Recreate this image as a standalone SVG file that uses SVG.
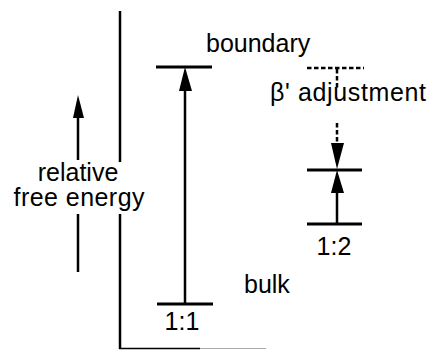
<svg xmlns="http://www.w3.org/2000/svg" width="428" height="350" viewBox="0 0 428 350">
<style>
text{font-family:"Liberation Sans",Arial,sans-serif;font-size:25px;fill:#000}
.ln{stroke:#000;stroke-width:2.5;fill:none}
.lvl{stroke:#000;stroke-width:3;fill:none}
.dash{stroke:#000;stroke-width:2.5;fill:none;stroke-dasharray:4.5 2.5}
.head{fill:#000}
</style>
<rect width="428" height="350" fill="#fff"/>
<g id="axis">
<line class="ln" x1="120" y1="11" x2="120" y2="162"/>
<line class="ln" x1="120" y1="214" x2="120" y2="349"/>
<line x1="119" y1="348.5" x2="200" y2="348.5" stroke="#000" stroke-width="1.5"/>
<line x1="200" y1="348.5" x2="266" y2="348.5" stroke="#aaa" stroke-width="1.2"/>
</g>
<g id="energy-label">
<text x="78" y="181" text-anchor="middle">relative</text>
<text x="79" y="206" text-anchor="middle" textLength="131" lengthAdjust="spacing">free energy</text>
<line class="ln" x1="78" y1="116" x2="78" y2="160"/>
<polygon class="head" points="78,95 73,118 84,118"/>
<line class="ln" x1="78" y1="214" x2="78" y2="272"/>
</g>
<g id="level-1-1">
<line class="lvl" x1="156" y1="67" x2="212" y2="67"/>
<line class="lvl" x1="157" y1="304" x2="213" y2="304"/>
<text x="182" y="330" text-anchor="middle">1:1</text>
</g>
<g id="level-1-2">
<line class="lvl" x1="307" y1="170" x2="362" y2="170"/>
<line class="lvl" x1="307" y1="224" x2="362" y2="224"/>
<text x="334" y="255" text-anchor="middle">1:2</text>
</g>
<g id="labels">
<text x="206" y="52">boundary</text>
<text x="244" y="293">bulk</text>
<text x="270" y="101" textLength="156" lengthAdjust="spacing">β' adjustment</text>
</g>
<g id="connectors">
<line class="ln" x1="185" y1="88" x2="185" y2="303"/>
<polygon class="head" points="185,67 179,91 192,91"/>
<line class="ln" x1="337" y1="190" x2="337" y2="223"/>
<polygon class="head" points="337,170 331,193 344,193"/>
<line class="dash" x1="307" y1="68" x2="364" y2="68"/>
<line class="dash" x1="337" y1="69" x2="337" y2="88"/>
<line class="dash" x1="337" y1="123" x2="337" y2="145"/>
<polygon class="head" points="337,169 331,143 344,143"/>
</g>
</svg>
